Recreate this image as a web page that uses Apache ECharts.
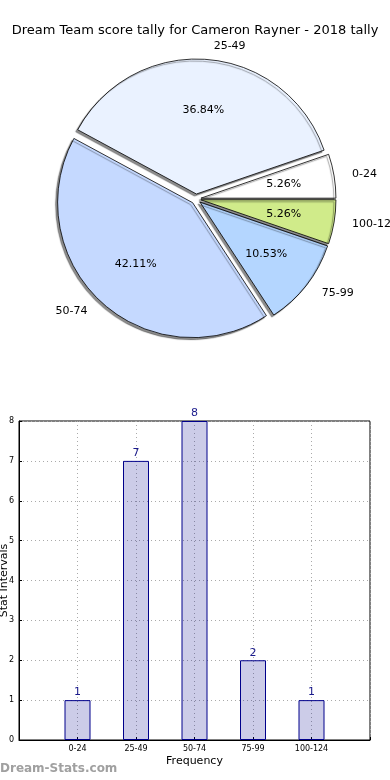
<!DOCTYPE html>
<html>
<head>
<meta charset="utf-8">
<script src="https://cdn.jsdelivr.net/npm/echarts@6/dist/echarts.min.js"></script>
<style>
html,body{margin:0;padding:0;background:#fff;}
#c{width:390px;height:780px;}
</style>
</head>
<body>
<div id="c"></div>
<script>
const titleText = 'Dream Team score tally for Cameron Rayner - 2018 tally';
const categories = ['0-24', '25-49', '50-74', '75-99', '100-124'];
const counts = [1, 7, 8, 2, 1];
const sliceColors = ['#ffffff', '#eaf2ff', '#c5d9ff', '#b4d6ff', '#d0eb8a'];
const yTicks = [0, 1, 2, 3, 4, 5, 6, 7, 8];
const xAxisName = 'Frequency';
const yAxisName = 'Stat Intervals';
const watermark = 'Dream-Stats.com';

const font = 'DejaVu Sans';
const chart = echarts.init(document.getElementById('c'), null, {renderer: 'canvas'});

const pieData = categories.map((c, i) => ({
  name: c, value: counts[i], selected: true,
  itemStyle: {color: sliceColors[i]}
}));
const pieDataPct = categories.map((c, i) => ({
  name: c, value: counts[i], selected: true
}));
const barData = counts.map((v, i) => [i, v]);

const pieCenter = [196, 199];
const R = 135;

chart.setOption({
  animation: false,
  textStyle: {fontFamily: font},
  title: {
    text: titleText, left: 'center', top: 19,
    textStyle: {fontFamily: font, fontSize: 13, fontWeight: 'normal', color: '#000'}
  },
  graphic: [{
    type: 'text', left: 0, top: 763,
    style: {text: watermark, font: '600 12px "DejaVu Sans"', fill: '#a0a0a0'}
  }],
  grid: {left: 19, right: 20, top: 421, bottom: 40, outerBoundsMode: 'none',
    show: true, borderColor: '#000', borderWidth: 1, backgroundColor: 'transparent'},
  xAxis: {
    type: 'value', min: -1, max: 5, interval: 1,
    name: xAxisName, nameLocation: 'middle', nameGap: 16, nameMoveOverlap: false,
    nameTextStyle: {fontFamily: font, fontSize: 11, color: '#000'},
    axisLine: {show: true, onZero: false, lineStyle: {color: '#000', width: 1}},
    axisTick: {show: true, inside: true, length: 3, lineStyle: {color: '#000'}},
    axisLabel: {
      fontFamily: font, fontSize: 8, color: '#000', margin: 5,
      formatter: v => (v >= 0 && v < categories.length) ? categories[v] : ''
    },
    splitLine: {show: true, lineStyle: {color: '#aaaaaa', type: [1, 3], width: 1}}
  },
  yAxis: {
    type: 'value', min: 0, max: 8, interval: 1,
    name: yAxisName, nameLocation: 'middle', nameGap: 9, nameRotate: 90, nameMoveOverlap: false,
    nameTextStyle: {fontFamily: font, fontSize: 11, color: '#000'},
    axisLine: {show: true, onZero: false, lineStyle: {color: '#000', width: 1}},
    axisTick: {show: true, inside: true, length: 3, lineStyle: {color: '#000'}},
    axisLabel: {fontFamily: font, fontSize: 8, color: '#000', margin: 5,
      formatter: v => yTicks.includes(v) ? String(v) : ''},
    splitLine: {show: true, lineStyle: {color: '#aaaaaa', type: [1, 3], width: 1}}
  },
  series: [
    {
      type: 'pie', center: pieCenter, radius: R,
      startAngle: 0, clockwise: false,
      selectedMode: 'multiple', selectedOffset: 5,
      avoidLabelOverlap: false,
      data: pieData,
      itemStyle: {borderColor: '#000', borderWidth: 0.8,
        shadowColor: 'rgba(0,0,0,0.45)', shadowBlur: 1, shadowOffsetX: -2, shadowOffsetY: 2},
      label: {show: true, position: 'outside', formatter: '{b}',
        fontFamily: font, fontSize: 11, color: '#000'},
      labelLine: {show: false, length: 13, length2: 0},
      emphasis: {disabled: true}
    },
    {
      type: 'pie', center: pieCenter, radius: [R * 0.2, R],
      startAngle: 0, clockwise: false,
      selectedMode: 'multiple', selectedOffset: 5,
      avoidLabelOverlap: false,
      data: pieDataPct,
      itemStyle: {color: 'rgba(0,0,0,0)', borderWidth: 0},
      label: {show: true, position: 'inside', formatter: '{d}%',
        fontFamily: font, fontSize: 11, color: '#000'},
      labelLine: {show: false},
      emphasis: {disabled: true},
      z: 3
    },
    {
      type: 'bar', data: barData, barWidth: 26,
      itemStyle: {color: 'rgba(0,0,140,0.2)', borderColor: '#00008b', borderWidth: 1},
      label: {show: true, position: 'top', distance: 2,
        fontFamily: font, fontSize: 11, color: '#1a1a8c',
        formatter: p => String(p.value[1])},
      emphasis: {disabled: true}
    }
  ]
});
</script>
</body>
</html>
